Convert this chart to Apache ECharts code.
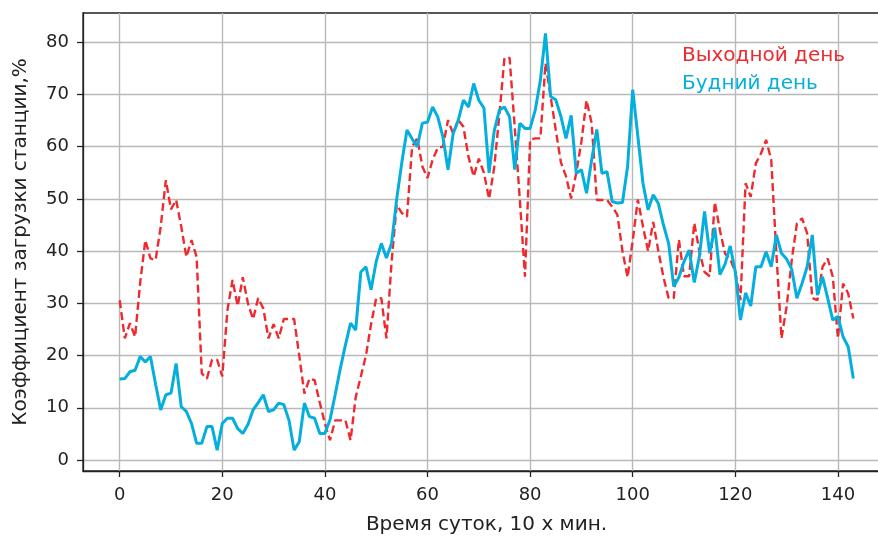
<!DOCTYPE html>
<html>
<head>
<meta charset="utf-8">
<script src="https://cdn.jsdelivr.net/npm/echarts@6/dist/echarts.min.js"></script>
<style>
  html, body { margin: 0; padding: 0; background: #fff; }
  #chart { width: 878px; height: 536px; }
</style>
</head>
<body>
<div id="chart"></div>
<script>
// ── Данные: коэффициент загрузки станции, % (шаг 10 мин., 144 точки) ──
var weekendLoad = [
  30.6, 23.3, 26.2, 23.6, 34.0, 42.1, 38.6, 38.3, 44.7, 53.6,
  48.0, 49.8, 44.7, 38.9, 42.1, 38.9, 16.6, 15.6, 19.2, 19.2,
  16.0, 28.7, 34.5, 29.5, 35.0, 30.0, 27.0, 31.0, 29.0, 23.3,
  26.0, 23.3, 27.0, 27.0, 27.0, 20.0, 12.7, 15.6, 15.3, 11.0,
  7.0, 3.8, 7.6, 7.6, 7.6, 3.8, 12.0, 16.0, 20.0, 26.0,
  31.0, 31.0, 23.3, 38.0, 48.9, 47.3, 46.6, 60.0, 61.6, 56.2,
  54.0, 57.5, 59.8, 60.0, 65.1, 62.5, 65.1, 63.8, 58.0, 54.3,
  57.7, 55.0, 50.0, 56.0, 66.0, 77.0, 77.0, 63.8, 49.8, 35.1,
  61.3, 61.6, 61.6, 76.0, 69.6, 63.2, 57.0, 54.3, 50.1, 55.0,
  61.0, 68.9, 64.5, 49.8, 49.8, 49.8, 48.5, 47.0, 40.0, 35.0,
  42.0, 49.9, 44.7, 40.0, 45.6, 40.0, 35.0, 31.0, 31.0, 42.2,
  35.2, 35.2, 45.4, 40.0, 36.0, 35.2, 49.4, 44.0, 39.5, 38.5,
  36.0, 30.6, 53.0, 50.4, 56.8, 58.7, 61.3, 57.5, 39.6, 23.3,
  29.4, 38.3, 45.3, 46.3, 43.4, 31.0, 30.6, 37.0, 38.6, 35.1,
  23.3, 33.8, 31.9, 27.1
];

var weekdayLoad = [
  15.5, 15.6, 16.9, 17.2, 19.8, 18.8, 19.8, 14.5, 9.6, 12.5,
  12.8, 18.5, 10.2, 9.3, 7.0, 3.2, 3.2, 6.4, 6.4, 1.9,
  7.0, 8.0, 8.0, 6.0, 5.1, 6.8, 9.6, 11.0, 12.5, 9.3,
  9.6, 10.9, 10.6, 7.6, 1.9, 3.5, 10.9, 8.3, 8.0, 5.1,
  5.1, 7.7, 12.5, 17.5, 22.0, 26.2, 24.9, 36.0, 37.0, 32.6,
  38.0, 41.5, 38.7, 41.5, 50.0, 57.0, 63.2, 61.5, 60.0, 64.5,
  64.7, 67.6, 65.7, 61.9, 55.6, 62.5, 65.1, 68.9, 67.6, 72.1,
  68.9, 67.4, 55.0, 63.0, 67.0, 67.6, 65.7, 55.6, 64.5, 63.5,
  63.5, 67.0, 72.7, 81.7, 69.6, 69.0, 65.8, 61.6, 66.0, 54.9,
  55.6, 51.1, 57.5, 63.3, 54.9, 55.2, 49.5, 49.2, 49.3, 56.2,
  70.9, 62.0, 53.0, 47.9, 50.8, 49.1, 45.0, 41.5, 33.2, 35.0,
  38.0, 40.2, 34.0, 39.0, 47.6, 39.6, 44.5, 35.5, 37.5, 41.0,
  36.0, 26.8, 32.0, 29.5, 37.0, 37.0, 39.9, 37.0, 43.1, 39.6,
  38.5, 36.5, 31.0, 33.8, 37.0, 43.1, 31.6, 35.1, 31.0, 26.8,
  27.5, 23.6, 21.7, 15.6
];

var xTicks = [0, 20, 40, 60, 80, 100, 120, 140];
var yTicks = [0, 10, 20, 30, 40, 50, 60, 70, 80];

var RED = '#ee2a2f';
var BLUE = '#05afdd';
var FONT = 'DejaVu Sans';

function toPairs(arr) {
  return arr.map(function (v, i) { return [i, v]; });
}

var chart = echarts.init(document.getElementById('chart'));

chart.setOption({
  animation: false,
  backgroundColor: '#fff',
  grid: {
    left: 83, right: -12, top: 13, bottom: 65,
    outerBoundsMode: 'none',
    containLabel: false,
    show: true, borderColor: '#222', borderWidth: 1.3
  },
  legend: {
    orient: 'vertical',
    left: 676, top: 46,
    padding: 0,
    itemWidth: 0, itemHeight: 0,
    itemGap: 8,
    selectedMode: false,
    textStyle: { fontFamily: FONT, fontSize: 20 },
    data: [
      { name: 'Выходной день', textStyle: { color: RED } },
      { name: 'Будний день', textStyle: { color: BLUE } }
    ]
  },
  xAxis: {
    type: 'value',
    min: -7.15, max: 150.15,
    name: 'Время суток, 10 х мин.',
    nameLocation: 'middle',
    nameGap: 44,
    nameTextStyle: { fontFamily: FONT, fontSize: 20, color: '#222' },
    axisLine: { show: true, onZero: false, lineStyle: { color: '#222', width: 1.3 } },
    axisTick: { show: true, length: 6, customValues: xTicks, lineStyle: { color: '#222', width: 1.3 } },
    axisLabel: { customValues: xTicks, fontFamily: FONT, fontSize: 18, color: '#222', margin: 15 },
    splitLine: { show: true, lineStyle: { color: '#b9b9b9', width: 1.4 } }
  },
  yAxis: {
    type: 'value',
    min: -2.1, max: 85.6,
    name: 'Коэффициент загрузки станции,%',
    nameLocation: 'middle',
    nameRotate: 90,
    nameGap: 52,
    nameTextStyle: { fontFamily: FONT, fontSize: 20, color: '#222' },
    axisLine: { show: true, onZero: false, lineStyle: { color: '#222', width: 1.3 } },
    axisTick: { show: true, length: 6, customValues: yTicks, lineStyle: { color: '#222', width: 1.3 } },
    axisLabel: { customValues: yTicks, fontFamily: FONT, fontSize: 18, color: '#222', margin: 14 },
    splitLine: { show: true, lineStyle: { color: '#b9b9b9', width: 1.4 } }
  },
  series: [
    {
      name: 'Выходной день',
      type: 'line',
      data: toPairs(weekendLoad),
      showSymbol: false,
      lineStyle: { color: RED, width: 2.4, type: [8, 4] },
      itemStyle: { color: RED }
    },
    {
      name: 'Будний день',
      type: 'line',
      data: toPairs(weekdayLoad),
      showSymbol: false,
      lineStyle: { color: BLUE, width: 3 },
      itemStyle: { color: BLUE }
    }
  ]
});
</script>
</body>
</html>
